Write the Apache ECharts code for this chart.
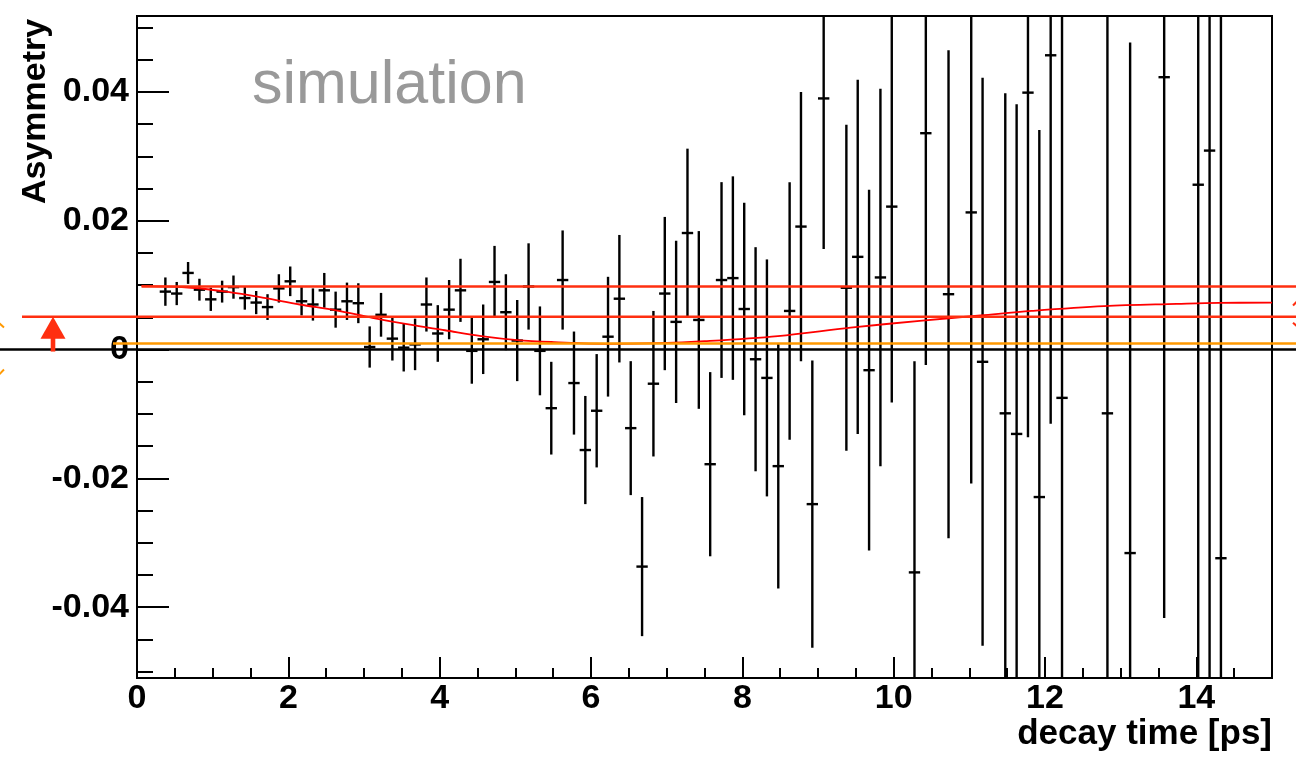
<!DOCTYPE html>
<html><head><meta charset="utf-8">
<script src="https://cdn.jsdelivr.net/npm/echarts@6/dist/echarts.min.js"></script>
<style>html,body{margin:0;padding:0;background:#fff}#c{width:1296px;height:758px}</style>
</head><body><div id="c"></div>
<script>
// ---- data ----
const binTime = [0.375,0.525,0.675,0.825,0.975,1.125,1.275,1.425,1.575,1.725,1.875,2.025,2.175,2.325,2.475,2.625,2.775,2.925,3.075,3.225,3.375,3.525,3.675,3.825,3.975,4.125,4.275,4.425,4.575,4.725,4.875,5.025,5.175,5.325,5.475,5.625,5.775,5.925,6.075,6.225,6.375,6.525,6.675,6.825,6.975,7.125,7.275,7.425,7.575,7.725,7.875,8.025,8.175,8.325,8.475,8.625,8.775,8.925,9.075,9.375,9.525,9.675,9.825,9.975,10.275,10.425,10.725,11.025,11.175,11.475,11.625,11.775,11.925,12.075,12.225,12.825,13.125,13.575,14.025,14.175,14.325];
const asym = [0.0090,0.0087,0.0119,0.0093,0.0078,0.0090,0.0097,0.0080,0.0073,0.0066,0.0095,0.0106,0.0075,0.0070,0.0092,0.0062,0.0075,0.0072,0.0004,0.0054,0.0017,0.0003,0.0008,0.0070,0.0025,0.0062,0.0092,-0.0002,0.0016,0.0105,0.0058,0.0014,0.0098,-0.0002,-0.0091,0.0108,-0.0052,-0.0156,-0.0095,0.0020,0.0079,-0.0122,-0.0337,-0.0053,0.0087,0.0043,0.0181,0.0046,-0.0178,0.0108,0.0111,0.0063,-0.0015,-0.0044,-0.0181,0.0060,0.0191,-0.0240,0.0390,0.0096,0.0144,-0.0032,0.0112,0.0222,-0.0346,0.0336,0.0086,0.0213,-0.0019,-0.0099,-0.0131,0.0399,-0.0229,0.0457,-0.0075,-0.0099,-0.0316,0.0423,0.0256,0.0309,-0.0324];
const asymErr = [0.0022,0.0018,0.0017,0.0017,0.0018,0.0017,0.0018,0.0018,0.0018,0.0020,0.0022,0.0023,0.0022,0.0025,0.0027,0.0028,0.0029,0.0031,0.0032,0.0034,0.0034,0.0037,0.0040,0.0042,0.0044,0.0046,0.0049,0.0051,0.0054,0.0056,0.0059,0.0063,0.0067,0.0069,0.0072,0.0077,0.0080,0.0084,0.0088,0.0093,0.0099,0.0104,0.0108,0.0113,0.0119,0.0126,0.0131,0.0138,0.0143,0.0152,0.0158,0.0165,0.0174,0.0184,0.0190,0.0200,0.0209,0.0223,0.0234,0.0253,0.0275,0.0280,0.0293,0.0304,0.0328,0.0360,0.0379,0.0421,0.0441,0.0497,0.0512,0.0535,0.0570,0.0572,0.0620,0.0700,0.0793,0.0840,0.0900,0.0920,0.0950];
const binHalfWidth = 0.075;
const fitTime  = [0.06,0.72,1.2,1.68,2.15,2.63,3.11,3.59,4.07,4.55,5.03,5.51,6.2,6.9,7.5,8.47,9.43,10.38,11.15,11.82,12.78,13.74,14.3,15];
const fitValue = [0.0099,0.0096,0.00897,0.00804,0.0070,0.0061,0.00494,0.0039,0.0030,0.0021,0.00147,0.00116,0.0009,0.0010,0.0013,0.0021,0.0034,0.0045,0.0053,0.0060,0.00675,0.0071,0.00726,0.00728];
const levelUpper = 0.0098;
const levelMiddle = 0.0051;
const levelLower = 0.00096;
const xMajorTicks = [0,2,4,6,8,10,12,14];
const xMinorTicks = [0.5,1,1.5,2.5,3,3.5,4.5,5,5.5,6.5,7,7.5,8.5,9,9.5,10.5,11,11.5,12.5,13,13.5,14.5];
const yMajorTicks = [-0.04,-0.02,0,0.02,0.04];
const yMinorTicks = [-0.05,-0.045,-0.035,-0.03,-0.025,-0.015,-0.01,-0.005,0.005,0.01,0.015,0.025,0.03,0.035,0.045,0.05];
const xRange = [0, 15];
const yRange = [-0.051, 0.0518];

const FONT = "'Liberation Sans', Arial, Helvetica, sans-serif";
const chart = echarts.init(document.getElementById('c'), null, {renderer: 'canvas'});

function renderBar(params, api) {
  const t = api.value(0), v = api.value(1), e = api.value(2);
  const top = api.coord([t, v + e]), bot = api.coord([t, v - e]);
  const l = api.coord([t - binHalfWidth, v]), r = api.coord([t + binHalfWidth, v]);
  const st = {stroke: '#000', lineWidth: 2.4};
  return {type: 'group', children: [
    {type: 'line', shape: {x1: top[0], y1: top[1], x2: bot[0], y2: bot[1]}, style: st},
    {type: 'line', shape: {x1: l[0], y1: l[1], x2: r[0], y2: r[1]}, style: st}
  ]};
}

const tickLine = {color: '#000', width: 2};
const noLine = {show: false, onZero: false};
chart.setOption({
  animation: false,
  backgroundColor: '#fff',
  grid: {left: 137, right: 24, top: 16, bottom: 80, show: true, borderColor: '#000', borderWidth: 2,
         backgroundColor: 'transparent', containLabel: false, outerBoundsMode: 'none'},
  xAxis: [
    {type: 'value', position: 'bottom', min: xRange[0], max: xRange[1],
     axisLine: noLine, splitLine: {show: false},
     axisTick: {show: true, inside: true, length: 21, lineStyle: tickLine, customValues: xMajorTicks},
     axisLabel: {show: true, customValues: xMajorTicks, color: '#000', fontSize: 34, fontWeight: 'bold',
                 fontFamily: FONT, margin: 4, formatter: v => String(v)}},
    {type: 'value', position: 'bottom', min: xRange[0], max: xRange[1],
     axisLine: noLine, splitLine: {show: false},
     axisTick: {show: true, inside: true, length: 10, lineStyle: tickLine, customValues: xMinorTicks},
     axisLabel: {show: false}}
  ],
  yAxis: [
    {type: 'value', position: 'left', min: yRange[0], max: yRange[1],
     axisLine: noLine, splitLine: {show: false},
     axisTick: {show: true, inside: true, length: 32, lineStyle: tickLine, customValues: yMajorTicks},
     axisLabel: {show: true, customValues: yMajorTicks, color: '#000', fontSize: 34, fontWeight: 'bold',
                 fontFamily: FONT, margin: 8,
                 formatter: v => (Math.abs(v) < 1e-9 ? '0' : v.toFixed(2))}},
    {type: 'value', position: 'left', min: yRange[0], max: yRange[1],
     axisLine: noLine, splitLine: {show: false},
     axisTick: {show: true, inside: true, length: 16, lineStyle: tickLine, customValues: yMinorTicks},
     axisLabel: {show: false}}
  ],
  series: [
    {type: 'custom', name: 'simulation', xAxisIndex: 0, yAxisIndex: 0, clip: true,
     renderItem: renderBar, encode: {x: 0, y: 1},
     data: binTime.map((t, i) => [t, asym[i], asymErr[i]]), z: 3},
    {type: 'line', name: 'fit', xAxisIndex: 0, yAxisIndex: 0, clip: true, smooth: 0.35,
     symbol: 'none', lineStyle: {color: '#ff0000', width: 1.8},
     data: fitTime.map((t, i) => [t, fitValue[i]]), z: 6}
  ]
});

// ---- annotation layer (positions of levels come from the axes) ----
const px = (t, v) => chart.convertToPixel({xAxisIndex: 0, yAxisIndex: 0}, [t, v]);
const W = 1296;
const y0 = px(0, 0)[1];
const yU = px(0, levelUpper)[1];
const yM = px(0, levelMiddle)[1];
const yL = px(0, levelLower)[1];
const xFitStart = px(fitTime[0], 0)[0];
const RED = '#ff2f10', ORANGE = '#ff9900';
const hl = (x1, x2, y, color) => ({type: 'line', z: 10, shape: {x1, y1: y, x2, y2: y}, style: {stroke: color, lineWidth: 2.5}});
const ax = 53;
chart.setOption({
  graphic: [
    hl(0, W, y0, '#000'),
    hl(xFitStart, W, yU, RED),
    hl(22, W, yM, RED),
    hl(113, W, yL, ORANGE),
    // arrow from zero level up to middle level
    {type: 'rect', z: 10, shape: {x: ax - 2.3, y: yM + 20, width: 4.6, height: y0 - yM - 18}, style: {fill: RED}},
    {type: 'polygon', z: 10, shape: {points: [[ax, yM], [ax - 12.5, yM + 22], [ax + 12.5, yM + 22]]}, style: {fill: RED}},
    // partial arrow heads at the canvas edges
    {type: 'polyline', z: 10, shape: {points: [[-6, yM + 2], [4, yL - 16]]}, style: {stroke: ORANGE, lineWidth: 2}},
    {type: 'polyline', z: 10, shape: {points: [[-6, y0 + 30], [4, y0 + 20]]}, style: {stroke: ORANGE, lineWidth: 2}},
    {type: 'polyline', z: 10, shape: {points: [[1302, yU + 10], [1293, yU + 19]]}, style: {stroke: RED, lineWidth: 2}},
    {type: 'polyline', z: 10, shape: {points: [[1302, yM + 14], [1293, yM + 6]]}, style: {stroke: RED, lineWidth: 2}},
    // texts
    {type: 'text', z: 10, x: 36, y: 111.5, rotation: Math.PI / 2,
     style: {text: 'Asymmetry', font: 'bold 34px ' + FONT, fill: '#000', align: 'center', verticalAlign: 'middle'}},
    {type: 'text', z: 10, x: 1272, y: 734,
     style: {text: 'decay time [ps]', font: 'bold 35px ' + FONT, fill: '#000', align: 'right', verticalAlign: 'middle'}},
    {type: 'text', z: 10, x: 252, y: 86,
     style: {text: 'simulation', font: '61px ' + FONT, fill: '#999999', align: 'left', verticalAlign: 'middle'}}
  ]
});
</script>
</body></html>
